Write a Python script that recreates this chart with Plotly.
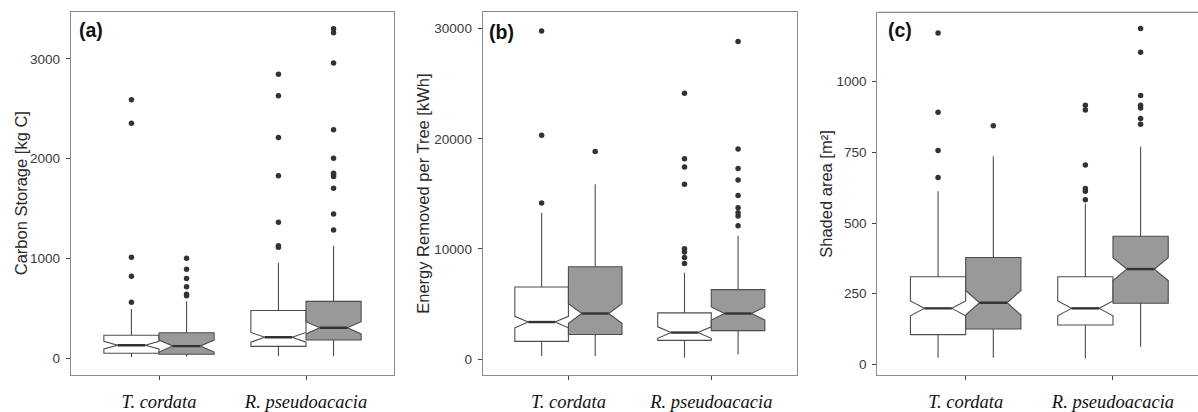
import plotly.graph_objects as go

W, H = 1198, 412

categories = ["T. cordata", "R. pseudoacacia"]
cat_pos = [1, 2]

# ---------- Panel (a): Carbon Storage [kg C] ----------
a_white_q1 = [53, 122]
a_white_med = [134, 213]
a_white_q3 = [233, 481]
a_white_lo = [14, 24]
a_white_hi = [497, 956]
a_white_notch = [38, 49]
a_white_out = [[563, 824, 1015, 2355, 2591],
               [1113, 1129, 1364, 1829, 2212, 2630, 2846]]

a_grey_q1 = [43, 186]
a_grey_med = [125, 308]
a_grey_q3 = [259, 573]
a_grey_lo = [20, 24]
a_grey_hi = [573, 1128]
a_grey_notch = [60, 61]
a_grey_out = [[628, 645, 720, 802, 893, 1005],
              [1286, 1446, 1704, 1822, 1839, 1855, 2006, 2290, 2958, 3262, 3301]]

# ---------- Panel (b): Energy Removed per Tree [kWh] ----------
b_white_q1 = [1605, 1694]
b_white_med = [3362, 2408]
b_white_q3 = [6546, 4191]
b_white_lo = [268, 125]
b_white_hi = [13288, 7848]
b_white_notch = [517, 522]
b_white_out = [[14180, 20333, 29800],
               [8686, 9221, 9720, 10024, 15874, 17452, 18193, 24141]]

b_grey_q1 = [2230, 2586]
b_grey_med = [4138, 4138]
b_grey_q3 = [8383, 6305]
b_grey_lo = [268, 419]
b_grey_hi = [15874, 11210]
b_grey_notch = [891, 597]
b_grey_out = [[18853],
              [12102, 12994, 13288, 13734, 14866, 16266, 17301, 19084, 28841]]

# ---------- Panel (c): Shaded area [m²] ----------
c_white_q1 = [105, 139]
c_white_med = [198, 198]
c_white_q3 = [310, 310]
c_white_lo = [23, 21]
c_white_hi = [612, 568]
c_white_notch = [26.5, 26.5]
c_white_out = [[661, 757, 892, 1172],
               [582, 612, 622, 705, 900, 917]]

c_grey_q1 = [125, 216]
c_grey_med = [218, 337]
c_grey_q3 = [378, 453]
c_grey_lo = [23, 62]
c_grey_hi = [736, 770]
c_grey_notch = [43.5, 40.5]
c_grey_out = [[844],
              [849, 870, 907, 917, 951, 1104, 1188]]

y_titles = ["Carbon Storage [kg C]", "Energy Removed per Tree [kWh]", "Shaded area [m²]"]
panel_labels = ["(a)", "(b)", "(c)"]

# ---------- styling ----------
BOX_W = 0.375
OFFSET = 0.1875
WHITE = "#ffffff"
GREY = "#999999"
EDGE = "#4d4d4d"
PT = "#333333"

fig = go.Figure()


def add_group(axn, q1, med, q3, lo, hi, notch, outs, fill, shift):
    xa = "x" if axn == 1 else f"x{axn}"
    ya = "y" if axn == 1 else f"y{axn}"
    for i, c in enumerate(cat_pos):
        xp = c + shift
        fig.add_trace(go.Box(
            x=[xp], q1=[q1[i]], median=[med[i]], q3=[q3[i]],
            lowerfence=[lo[i]], upperfence=[hi[i]], notchspan=[notch[i]],
            notched=True, notchwidth=0.25, width=BOX_W, whiskerwidth=0,
            fillcolor=fill, line=dict(color=EDGE, width=1.1),
            boxpoints=False, hoverinfo="skip", showlegend=False,
            xaxis=xa, yaxis=ya))
        half = BOX_W / 2 * 0.5
        fig.add_trace(go.Scatter(
            x=[xp - half, xp + half], y=[med[i], med[i]], mode="lines",
            line=dict(color="#333333", width=2.4), hoverinfo="skip",
            showlegend=False, xaxis=xa, yaxis=ya))
        fig.add_trace(go.Scatter(
            x=[xp] * len(outs[i]), y=outs[i], mode="markers",
            marker=dict(color=PT, size=5.5, line=dict(width=0)),
            hoverinfo="skip", showlegend=False, xaxis=xa, yaxis=ya))


add_group(1, a_white_q1, a_white_med, a_white_q3, a_white_lo, a_white_hi, a_white_notch, a_white_out, WHITE, -OFFSET)
add_group(1, a_grey_q1, a_grey_med, a_grey_q3, a_grey_lo, a_grey_hi, a_grey_notch, a_grey_out, GREY, OFFSET)
add_group(2, b_white_q1, b_white_med, b_white_q3, b_white_lo, b_white_hi, b_white_notch, b_white_out, WHITE, -OFFSET)
add_group(2, b_grey_q1, b_grey_med, b_grey_q3, b_grey_lo, b_grey_hi, b_grey_notch, b_grey_out, GREY, OFFSET)
add_group(3, c_white_q1, c_white_med, c_white_q3, c_white_lo, c_white_hi, c_white_notch, c_white_out, WHITE, -OFFSET)
add_group(3, c_grey_q1, c_grey_med, c_grey_q3, c_grey_lo, c_grey_hi, c_grey_notch, c_grey_out, GREY, OFFSET)

# panel geometry (pixels)
x_dom = [(70.8, 394.2), (482.7, 797.0), (877.3, 1198.0)]
x_rng = [[0.4, 2.6], [0.4, 2.6], [0.4, 0.4 + (1198.0 - 877.3) / 147.3]]
y_top, y_bot = 12.7, 382.5
y_rng = [[-165, 3464], [-1454, 31480], [-38, 1245]]
y_ticks = [[0, 1000, 2000, 3000], [0, 10000, 20000, 30000], [0, 250, 500, 750, 1000]]
title_x = [20.5, 423.0, 826.0]
label_xy = [(77.3, 30.8), (487.3, 32.5), (886.3, 30.5)]

FRAME = "#8a8a8a"
layout = dict(
    width=W, height=H, margin=dict(l=0, r=0, t=0, b=0),
    paper_bgcolor="white", plot_bgcolor="white",
    boxmode="overlay", showlegend=False,
    font=dict(family="Liberation Sans, Arial, sans-serif", color="#333333"),
)
annotations = []
shapes = []
for k in range(3):
    sfx = "" if k == 0 else str(k + 1)
    mirror = True if k < 2 else False
    layout["xaxis" + sfx] = dict(
        domain=[x_dom[k][0] / W, x_dom[k][1] / W], range=x_rng[k],
        anchor="y" + sfx, tickmode="array", tickvals=cat_pos, ticktext=categories,
        showgrid=False, zeroline=False, showline=True, mirror=mirror,
        linecolor=FRAME, linewidth=1.2, ticks="outside", ticklen=4,
        tickcolor="#444444", tickwidth=1, ticklabelstandoff=6,
        tickfont=dict(family="Liberation Serif, Times New Roman, serif", size=18.5,
                      style="italic", color="#111111"),
    )
    layout["yaxis" + sfx] = dict(
        domain=[1 - y_bot / H, 1 - y_top / H], range=y_rng[k],
        anchor="x" + sfx, tickmode="array", tickvals=y_ticks[k], tickformat="d",
        showgrid=False, zeroline=False, showline=True, mirror=mirror,
        linecolor=FRAME, linewidth=1.2, ticks="outside", ticklen=4,
        tickcolor="#444444", tickwidth=1, ticklabelstandoff=3,
        tickfont=dict(family="Liberation Sans, Arial, sans-serif", size=13.5, color="#3a3a3a"),
    )
    annotations.append(dict(
        text=y_titles[k], textangle=-90, xref="paper", yref="paper",
        x=title_x[k] / W, y=1 - (y_top + y_bot) / 2 / H, xanchor="center", yanchor="middle",
        showarrow=False, font=dict(family="Liberation Sans, Arial, sans-serif", size=16.5, color="#2a2a2a"),
    ))
    annotations.append(dict(
        text=panel_labels[k], xref="paper", yref="paper",
        x=label_xy[k][0] / W, y=1 - label_xy[k][1] / H, xanchor="left", yanchor="middle",
        showarrow=False, font=dict(family="Liberation Sans, Arial, sans-serif", size=19.5,
                                   weight="bold", color="#111111"),
    ))

shapes.append(dict(type="line", xref="x3 domain", yref="y3 domain", x0=0, x1=1, y0=1, y1=1,
                   line=dict(color=FRAME, width=1.2)))
layout["annotations"] = annotations
layout["shapes"] = shapes
fig.update_layout(**layout)

fig.write_html("out.html")
